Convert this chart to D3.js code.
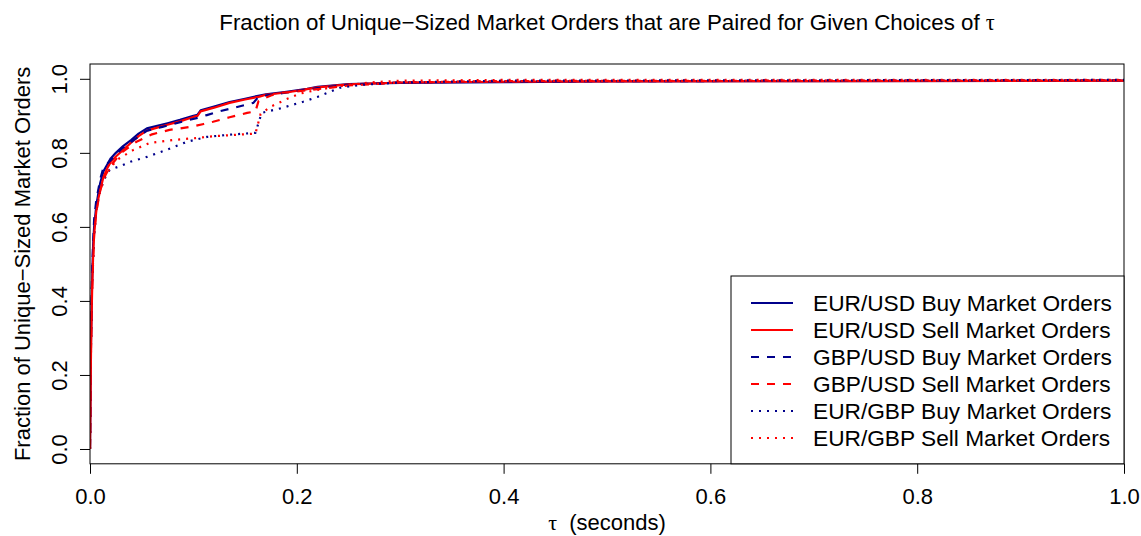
<!DOCTYPE html>
<html>
<head>
<meta charset="utf-8">
<script src="https://cdn.jsdelivr.net/npm/d3@7"></script>
<style>
  body { margin: 0; background: #fff; }
  svg { display: block; font-family: "Liberation Sans", Arial, sans-serif; }
</style>
</head>
<body>
<div id="chart"></div>
<script>
// Data: [tau (seconds), fraction paired]

const eurUsdBuy = [
  [0, 0], [0.0005, 0.15], [0.001, 0.30], [0.002, 0.45], [0.003, 0.55], [0.004, 0.60],
  [0.006, 0.655], [0.008, 0.69], [0.01, 0.72], [0.013, 0.75], [0.017, 0.77], [0.02, 0.785],
  [0.025, 0.80], [0.032, 0.818], [0.04, 0.835], [0.047, 0.852], [0.055, 0.866], [0.065, 0.873],
  [0.075, 0.88], [0.087, 0.889], [0.1, 0.90], [0.104, 0.903], [0.107, 0.915], [0.12, 0.925],
  [0.135, 0.937], [0.15, 0.946], [0.164, 0.955], [0.17, 0.958], [0.19, 0.965], [0.21, 0.973],
  [0.22, 0.978], [0.25, 0.986], [0.3, 0.989], [0.4, 0.991], [0.5, 0.993], [0.7, 0.994], [1.0, 0.995]
];

const eurUsdSell = [
  [0, 0], [0.0005, 0.12], [0.001, 0.27], [0.002, 0.42], [0.003, 0.52], [0.004, 0.58],
  [0.006, 0.64], [0.008, 0.675], [0.01, 0.70], [0.013, 0.735], [0.017, 0.76], [0.02, 0.775],
  [0.025, 0.79], [0.032, 0.808], [0.04, 0.828], [0.047, 0.845], [0.055, 0.86], [0.065, 0.868],
  [0.075, 0.876], [0.087, 0.885], [0.1, 0.897], [0.104, 0.90], [0.107, 0.912], [0.12, 0.922],
  [0.135, 0.935], [0.15, 0.944], [0.164, 0.952], [0.17, 0.957], [0.19, 0.963], [0.21, 0.972],
  [0.22, 0.977], [0.25, 0.985], [0.3, 0.99], [0.4, 0.992], [0.5, 0.993], [0.7, 0.994], [1.0, 0.995]
];

const gbpUsdBuy = [
  [0, 0], [0.0005, 0.16], [0.001, 0.32], [0.002, 0.48], [0.004, 0.62], [0.006, 0.67],
  [0.008, 0.70], [0.01, 0.73], [0.013, 0.76], [0.02, 0.78], [0.03, 0.81], [0.04, 0.83],
  [0.055, 0.86], [0.07, 0.87], [0.09, 0.885], [0.105, 0.895], [0.113, 0.902], [0.125, 0.912],
  [0.14, 0.922], [0.158, 0.935], [0.162, 0.948], [0.17, 0.955], [0.19, 0.963], [0.22, 0.975],
  [0.25, 0.984], [0.3, 0.99], [0.4, 0.993], [1.0, 0.996]
];

const gbpUsdSell = [
  [0, 0], [0.0005, 0.13], [0.001, 0.28], [0.002, 0.43], [0.004, 0.58], [0.006, 0.64],
  [0.01, 0.70], [0.015, 0.74], [0.02, 0.765], [0.03, 0.80], [0.045, 0.83], [0.06, 0.85],
  [0.077, 0.862], [0.097, 0.87], [0.11, 0.878], [0.119, 0.884], [0.135, 0.896], [0.152, 0.908],
  [0.16, 0.912], [0.163, 0.94], [0.175, 0.955], [0.184, 0.962], [0.2, 0.966], [0.22, 0.972],
  [0.25, 0.982], [0.3, 0.99], [0.4, 0.994], [1.0, 0.996]
];

const eurGbpBuy = [
  [0, 0], [0.0005, 0.15], [0.001, 0.30], [0.002, 0.45], [0.004, 0.58], [0.006, 0.64],
  [0.008, 0.68], [0.01, 0.70], [0.015, 0.735], [0.019, 0.754], [0.03, 0.765], [0.039, 0.776],
  [0.055, 0.789], [0.074, 0.808], [0.094, 0.83], [0.113, 0.843], [0.135, 0.849], [0.16, 0.854],
  [0.166, 0.908], [0.184, 0.92], [0.206, 0.938], [0.22, 0.951], [0.242, 0.976], [0.264, 0.984],
  [0.3, 0.99], [0.4, 0.995], [1.0, 0.997]
];

const eurGbpSell = [
  [0, 0], [0.0005, 0.14], [0.001, 0.29], [0.002, 0.44], [0.004, 0.58], [0.006, 0.64],
  [0.01, 0.70], [0.015, 0.74], [0.02, 0.76], [0.026, 0.781], [0.042, 0.808], [0.058, 0.827],
  [0.081, 0.835], [0.103, 0.84], [0.12, 0.845], [0.16, 0.852], [0.165, 0.905], [0.175, 0.925],
  [0.19, 0.945], [0.203, 0.96], [0.216, 0.968], [0.24, 0.98], [0.27, 0.99], [0.3, 0.995],
  [0.4, 0.997], [1.0, 0.997]
];

const seriesNames = [
  "EUR/USD Buy Market Orders", "EUR/USD Sell Market Orders",
  "GBP/USD Buy Market Orders", "GBP/USD Sell Market Orders",
  "EUR/GBP Buy Market Orders", "EUR/GBP Sell Market Orders"
];
const seriesData = [eurUsdBuy, eurUsdSell, gbpUsdBuy, gbpUsdSell, eurGbpBuy, eurGbpSell];

const xTicks = [0, 0.2, 0.4, 0.6, 0.8, 1.0];
const yTicks = [0, 0.2, 0.4, 0.6, 0.8, 1.0];

// styles: R-like lty 1/2/3 with lwd 2
const colors = ["#00008B", "#FF0000", "#00008B", "#FF0000", "#00008B", "#FF0000"];
const dashes = [null, null, "8,8", "8,8", "2,6", "2,6"];

const fullWidth = 1141;
const fullHeight = 536;
const plot = { left: 90, right: 1124, top: 64, bottom: 463.8 };
const fontSize = 22;

const svg = d3.select("#chart")
  .append("svg")
  .attr("width", fullWidth)
  .attr("height", fullHeight);

// Scales (y has R's 4% padding)
const xScale = d3.scaleLinear().domain([0, 1]).range([plot.left, plot.right]);
const yScale = d3.scaleLinear().domain([-0.04, 1.04]).range([plot.bottom, plot.top]);

svg.append("clipPath").attr("id", "clip")
  .append("rect")
  .attr("x", plot.left).attr("y", plot.top)
  .attr("width", plot.right - plot.left).attr("height", plot.bottom - plot.top);

// Lines
const line = d3.line()
  .x(d => xScale(d[0]))
  .y(d => yScale(d[1]));

const lines = svg.append("g").attr("clip-path", "url(#clip)");
seriesData.forEach((s, i) => {
  lines.append("path")
    .datum(s)
    .attr("fill", "none")
    .attr("stroke", colors[i])
    .attr("stroke-width", 2.2)
    .attr("stroke-dasharray", dashes[i])
    .attr("stroke-linejoin", "round")
    .attr("d", line);
});

// Axes
const xAxis = svg.append("g")
  .attr("transform", `translate(0,${plot.bottom})`)
  .call(d3.axisBottom(xScale).tickValues(xTicks).tickFormat(d3.format(".1f")).tickSize(10).tickSizeOuter(0));
xAxis.select(".domain").remove();
xAxis.selectAll("line").attr("stroke", "#000");
xAxis.selectAll("text")
  .attr("y", 40).attr("dy", 0)
  .attr("fill", "#000")
  .style("font-size", fontSize + "px")
  .style("font-family", "'Liberation Sans', Arial, sans-serif");

const yAxis = svg.append("g")
  .attr("transform", `translate(${plot.left},0)`)
  .call(d3.axisLeft(yScale).tickValues(yTicks).tickFormat(d3.format(".1f")).tickSize(10).tickSizeOuter(0));
yAxis.select(".domain").remove();
yAxis.selectAll("line").attr("stroke", "#000");
yAxis.selectAll("text")
  .attr("transform", "rotate(-90)")
  .attr("x", 0).attr("y", -23).attr("dy", 0)
  .attr("text-anchor", "middle")
  .attr("fill", "#000")
  .style("font-size", fontSize + "px")
  .style("font-family", "'Liberation Sans', Arial, sans-serif");

// Box
svg.append("rect")
  .attr("x", plot.left).attr("y", plot.top)
  .attr("width", plot.right - plot.left).attr("height", plot.bottom - plot.top)
  .attr("fill", "none")
  .attr("stroke", "#000")
  .attr("stroke-width", 1);

// Title
const title = svg.append("text")
  .attr("x", (plot.left + plot.right) / 2)
  .attr("y", 30)
  .attr("text-anchor", "middle")
  .style("font-size", "22.3px");
title.append("tspan").text("Fraction of Unique\u2212Sized Market Orders that are Paired for Given Choices of ");
title.append("tspan").style("font-family", "'Liberation Serif', serif").text("\u03c4");

// Axis labels
const xLabel = svg.append("text")
  .attr("x", (plot.left + plot.right) / 2)
  .attr("y", 530)
  .attr("text-anchor", "middle")
  .style("font-size", fontSize + "px");
xLabel.append("tspan").style("font-family", "'Liberation Serif', serif").text("\u03c4");
xLabel.append("tspan").text("\u00a0 (seconds)");

svg.append("text")
  .attr("transform", `translate(30,${(plot.top + plot.bottom) / 2}) rotate(-90)`)
  .attr("text-anchor", "middle")
  .style("font-size", fontSize + "px")
  .text("Fraction of Unique\u2212Sized Market Orders");

// Legend (bottom right)
const legend = svg.append("g");
legend.append("rect")
  .attr("x", 731).attr("y", 276)
  .attr("width", plot.right - 731).attr("height", plot.bottom - 276)
  .attr("fill", "#fff")
  .attr("stroke", "#000");

seriesNames.forEach((name, i) => {
  const cy = 303 + i * 27;
  legend.append("line")
    .attr("x1", 751).attr("x2", 793)
    .attr("y1", cy).attr("y2", cy)
    .attr("stroke", colors[i])
    .attr("stroke-width", 2)
    .attr("stroke-dasharray", dashes[i]);
  legend.append("text")
    .attr("x", 813).attr("y", cy + 8)
    .style("font-size", "22.7px")
    .text(name);
});
</script>
</body>
</html>
